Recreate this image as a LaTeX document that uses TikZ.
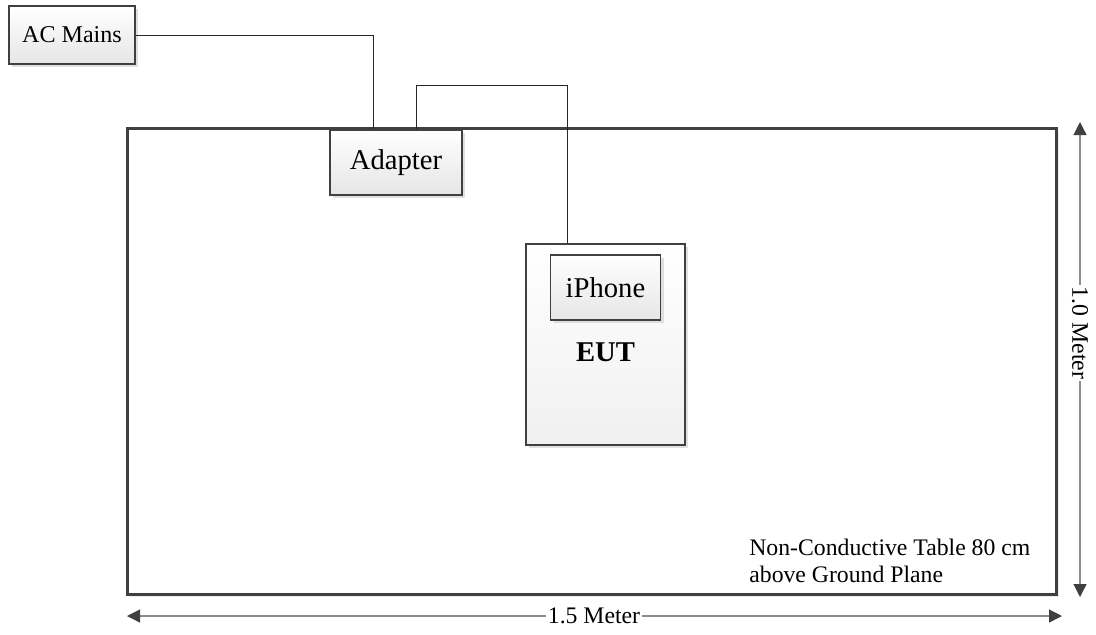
\documentclass[tikz,border=0pt]{standalone}
\usepackage{fontspec}
\setmainfont{Liberation Serif}
\usetikzlibrary{arrows.meta,shadows,positioning}

\begin{document}
\begin{tikzpicture}[x=0.2mm,y=-0.2mm,
                    >={Triangle[length=2.6mm,width=2.6mm,color=black!75]}]

  \tikzstyle{unit}=[rectangle,draw=black!75,line width=1.1pt,
                    top color=white,bottom color=black!10,
                    drop shadow={shadow xshift=0.7mm,shadow yshift=-0.7mm,fill=black!20,opacity=0.6}]
  \tikzstyle{wire}=[draw=black!85,line width=0.5pt]
  \tikzstyle{dim}=[draw=black!45,line width=0.7pt,<->]
  \tikzstyle{dimlabel}=[fill=white,inner sep=1pt,font=\fontsize{13.5}{16}\selectfont]

  \useasboundingbox (0,0) rectangle (1096,634);

  \node[rectangle,draw=black!75,fill=white,line width=1.7pt,anchor=north west,
        minimum width=185.8mm,minimum height=93.2mm,
        drop shadow={shadow xshift=0.5mm,shadow yshift=-0.5mm,fill=black!15,opacity=0.5}]
        (table) at (126,127) {};

  \node[unit,anchor=north west,minimum width=25.2mm,minimum height=11.6mm,
        font=\fontsize{13.7}{16}\selectfont] (ac) at (8,5) {AC Mains};
  \node[unit,anchor=north west,minimum width=26.4mm,minimum height=13mm,
        font=\fontsize{16.3}{19}\selectfont] (adapter) at (329,129) {Adapter};
  \node[unit,anchor=north west,minimum width=31.8mm,minimum height=40.2mm,
        top color=white,bottom color=black!6] (eut) at (525,243) {};
  \node[unit,anchor=north,minimum width=22mm,minimum height=13mm,
        font=\fontsize{16.3}{19}\selectfont] (iphone) [below=2.2mm of eut.north] {iPhone};
  \node[font=\fontsize{16.3}{19}\selectfont\bfseries] (eutlabel) [below=3.1mm of iphone] {EUT};

  % cables
  \draw[wire] (ac.east) -| ([xshift=-4.6mm]adapter.north);
  \draw[wire] ([xshift=4mm]adapter.north) -- ++(0,-44) -| ([xshift=-7.7mm]eut.north);

  \node[align=left,anchor=north west,inner sep=0pt,
        font=\fontsize{13.5}{15.4}\selectfont] (note) at (749,539)
        {Non-Conductive Table 80 cm\\above Ground Plane};

  % dimensions
  \coordinate (vtop) at (1080,122);
  \coordinate (vbot) at (1080,597);
  \coordinate (hleft) at (127,616);
  \coordinate (hright) at (1062,616);
  \draw[dim] (vtop) -- (vbot);
  \draw[dim] (hleft) -- (hright);
  \node[dimlabel,rotate=-90] (vlabel) at (1080,333) {1.0 Meter};
  \node[dimlabel] (hlabel) at (594,616) {1.5 Meter};
\end{tikzpicture}
\end{document}
